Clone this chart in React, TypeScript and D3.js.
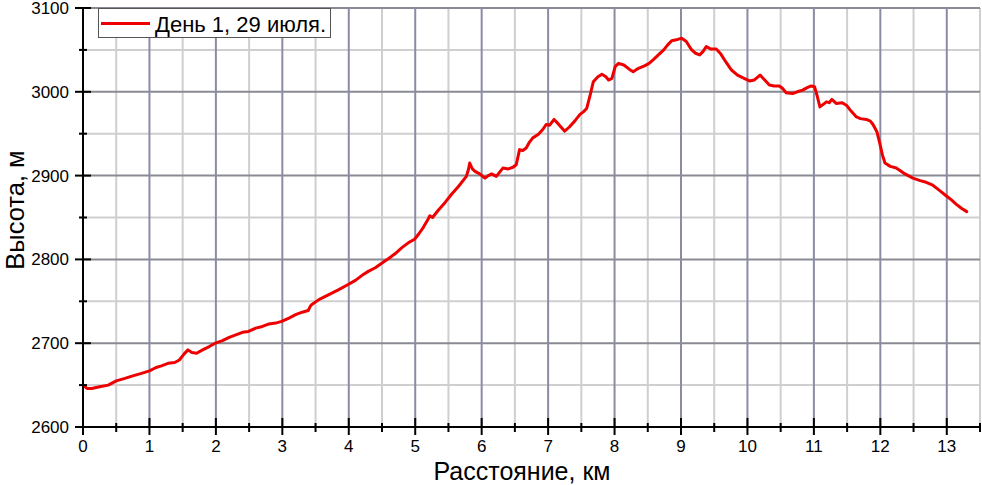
import React from "react";
import * as d3 from "d3";

const distanceKm = [
  0, 0.06, 0.13, 0.25, 0.38, 0.5, 0.63, 0.75, 0.88, 1.0, 1.1, 1.18, 1.28, 1.38, 1.45, 1.52, 1.58, 1.64, 1.71, 1.8, 1.9, 1.99,
  2.1, 2.2, 2.3, 2.4, 2.49, 2.6, 2.7, 2.8, 2.9, 2.99, 3.1, 3.2, 3.3, 3.39, 3.42, 3.44, 3.55, 3.7, 3.85, 3.99,
  4.1, 4.2, 4.3, 4.4, 4.49, 4.6, 4.7, 4.8, 4.9, 4.99, 5.05, 5.12, 5.18, 5.22, 5.26, 5.35, 5.45, 5.55, 5.65, 5.77,
  5.8, 5.82, 5.86, 5.9, 5.97, 6.05, 6.1, 6.15, 6.22, 6.28, 6.32, 6.4, 6.47, 6.52, 6.57, 6.62, 6.67, 6.72, 6.77,
  6.85, 6.92, 6.97, 7.02, 7.09, 7.15, 7.25, 7.32, 7.4, 7.48, 7.53, 7.58, 7.63, 7.68, 7.75, 7.81, 7.87, 7.91,
  7.96, 8.01, 8.06, 8.14, 8.22, 8.28, 8.36, 8.45, 8.52, 8.58, 8.66, 8.74, 8.8, 8.86, 8.93, 9.01, 9.08, 9.12,
  9.16, 9.22, 9.28, 9.33, 9.38, 9.45, 9.53, 9.6, 9.68, 9.76, 9.85, 9.95, 10.03, 10.1, 10.19, 10.26, 10.33,
  10.4, 10.48, 10.53, 10.58, 10.68, 10.75, 10.83, 10.9, 10.96, 11.01, 11.05, 11.09, 11.14, 11.19, 11.23, 11.27,
  11.34, 11.42, 11.49, 11.56, 11.64, 11.7, 11.79, 11.85, 11.89, 11.95, 11.99, 12.03, 12.07, 12.15, 12.24, 12.35,
  12.49, 12.6, 12.69, 12.78, 12.88, 12.99, 13.07, 13.14, 13.22, 13.3,
];

const elevationM = [
  2650, 2646, 2646, 2648, 2650, 2655, 2658, 2661, 2664, 2667, 2671, 2673, 2676, 2677, 2680, 2687, 2692, 2689, 2688, 2692, 2696, 2700,
  2703, 2707, 2710, 2713, 2714, 2718, 2720, 2723, 2724, 2726, 2730, 2734, 2737, 2739, 2744, 2746, 2752, 2758, 2764, 2770,
  2775, 2781, 2786, 2790, 2795, 2801, 2807, 2814, 2820, 2824, 2830, 2838, 2846, 2852, 2850, 2859, 2868, 2878, 2887, 2899,
  2907, 2915, 2908, 2905, 2902, 2897, 2900, 2902, 2899, 2905, 2909, 2908, 2910, 2913, 2931, 2930, 2933, 2940, 2945,
  2949, 2955, 2961, 2960, 2967, 2962, 2953, 2958, 2965, 2973, 2976, 2980, 2995, 3012, 3018, 3021, 3018, 3014,
  3016, 3030, 3034, 3032, 3027, 3024, 3028, 3031, 3034, 3038, 3044, 3050, 3056, 3061, 3062, 3064, 3060, 3055,
  3050, 3046, 3044, 3048, 3054, 3051, 3051, 3045, 3035, 3026, 3020, 3016, 3013, 3014, 3020, 3014, 3008,
  3007, 3007, 3004, 2999, 2998, 3000, 3002, 3005, 3007, 3006, 2995, 2982, 2985, 2988, 2987, 2991,
  2986, 2987, 2984, 2977, 2970, 2968, 2967, 2965, 2961, 2952, 2939, 2925, 2915, 2911, 2909, 2903,
  2897, 2894, 2892, 2889, 2883, 2876, 2871, 2866, 2861, 2857,
];

const xTicks = [0, 1, 2, 3, 4, 5, 6, 7, 8, 9, 10, 11, 12, 13];
const yTicks = [2600, 2700, 2800, 2900, 3000, 3100];
const legendLabel = "День 1, 29 июля.";
const xTitle = "Расстояние, км";
const yTitle = "Высота, м";

const W = 982;
const H = 485;
const left = 83;
const right = 980;
const top = 8;
const bottom = 427;
const FONT = "'Liberation Sans', Arial, sans-serif";

export default function App() {
  const x = d3.scaleLinear().domain([0, 13.5]).range([left, right]);
  const y = d3.scaleLinear().domain([2600, 3100]).range([bottom, top]);

  const xGrid = d3.range(0, 13.51, 0.5);
  const yGrid = d3.range(2600, 3100.1, 50);
  const isMajorX = (v: number) => Math.abs(v - Math.round(v)) < 1e-6;
  const isMajorY = (v: number) => Math.round(v) % 100 === 0;

  const pts = distanceKm.map((d, i) => [d, elevationM[i]] as [number, number]);
  const line = d3
    .line<[number, number]>()
    .x((d) => x(d[0]))
    .y((d) => y(d[1]))
    .curve(d3.curveLinear);

  return (
    <svg
      width={W}
      height={H}
      style={{ position: "absolute", left: 0, top: 0, background: "#fff" }}
    >
      <rect x={0} y={0} width={W} height={H} fill="#fff" />
      {/* minor grid */}
      {xGrid.filter((v) => !isMajorX(v)).map((v) => (
        <line key={"xm" + v} x1={x(v)} x2={x(v)} y1={top} y2={bottom} stroke="#cfcfcf" strokeWidth={2} />
      ))}
      {yGrid.filter((v) => !isMajorY(v)).map((v) => (
        <line key={"ym" + v} x1={left} x2={right} y1={y(v)} y2={y(v)} stroke="#cfcfcf" strokeWidth={2} />
      ))}
      {/* major grid */}
      {yGrid.filter((v) => isMajorY(v) && v !== 2600).map((v) => (
        <line key={"yM" + v} x1={left} x2={right} y1={y(v)} y2={y(v)} stroke="#8a8a94" strokeWidth={2} />
      ))}
      {xGrid.filter((v) => isMajorX(v) && v !== 0).map((v) => (
        <line key={"xM" + v} x1={x(v)} x2={x(v)} y1={top} y2={bottom} stroke="#8a8ca4" strokeWidth={2} />
      ))}

      {/* data line */}
      <path d={line(pts) || ""} fill="none" stroke="#ee0000" strokeWidth={3} strokeLinejoin="round" strokeLinecap="round" />

      {/* axes */}
      <line x1={left} x2={left} y1={top} y2={bottom} stroke="#000" strokeWidth={2} />
      <line x1={left} x2={right} y1={bottom} y2={bottom} stroke="#000" strokeWidth={2} />
      {yGrid.map((v) => (
        <line
          key={"yt" + v}
          x1={isMajorY(v) ? left - 8 : left - 4}
          x2={isMajorY(v) ? left + 8 : left + 4}
          y1={y(v)}
          y2={y(v)}
          stroke="#000"
          strokeWidth={2}
        />
      ))}
      {xGrid.map((v) => (
        <line
          key={"xt" + v}
          x1={x(v)}
          x2={x(v)}
          y1={isMajorX(v) ? bottom - 9 : bottom - 4}
          y2={isMajorX(v) ? bottom + 8 : bottom + 5}
          stroke="#000"
          strokeWidth={2}
        />
      ))}
      {yTicks.map((v) => (
        <text key={"yl" + v} x={69} y={y(v) + 6} textAnchor="end" fontFamily={FONT} fontSize={17} fill="#000">
          {v}
        </text>
      ))}
      {xTicks.map((v) => (
        <text key={"xl" + v} x={x(v)} y={452} textAnchor="middle" fontFamily={FONT} fontSize={17} fill="#000">
          {v}
        </text>
      ))}
      <text x={522} y={480} textAnchor="middle" fontFamily={FONT} fontSize={25} fill="#000">
        {xTitle}
      </text>
      <text
        transform={`translate(24, 210) rotate(-90)`}
        textAnchor="middle"
        fontFamily={FONT}
        fontSize={25.5}
        fill="#000"
      >
        {yTitle}
      </text>

      {/* legend */}
      <rect x={98.5} y={8.5} width={232} height={29} fill="#fff" stroke="#555" strokeWidth={1} />
      <line x1={101} x2={150} y1={23.5} y2={23.5} stroke="#ee0000" strokeWidth={3} />
      <text x={155} y={31.5} fontFamily={FONT} fontSize={22} fill="#000">
        {legendLabel}
      </text>
    </svg>
  );
}
